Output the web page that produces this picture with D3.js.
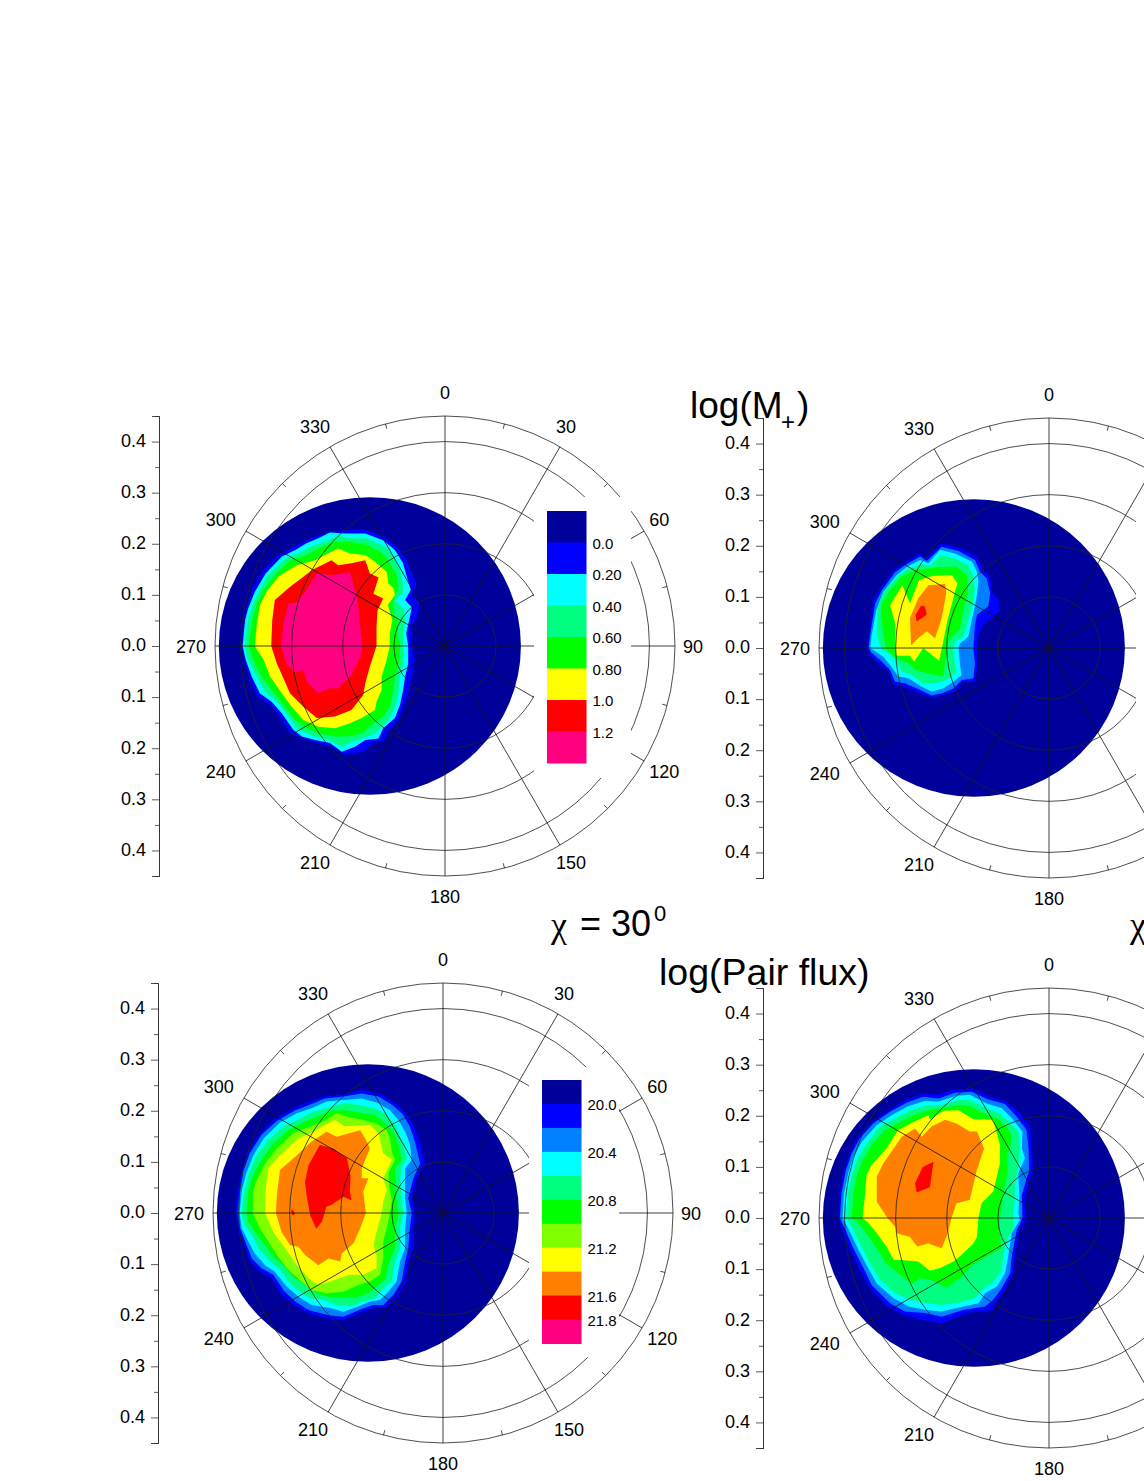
<!DOCTYPE html>
<html>
<head>
<meta charset="utf-8">
<style>
  body { margin: 0; background: #fff; }
  svg { display: block; }
  text { font-family: "Liberation Sans", Arial, sans-serif; fill: #000; }
</style>
<script src="https://cdnjs.cloudflare.com/ajax/libs/d3/7.8.5/d3.min.js"></script>
</head>
<body>
<div id="chart"></div>
<script>
// radial axis and angle labels
const radialTicks = [-0.4, -0.3, -0.2, -0.1, 0, 0.1, 0.2, 0.3, 0.4];
const radialMinorTicks = [-0.45, -0.35, -0.25, -0.15, -0.05, 0.05, 0.15, 0.25, 0.35, 0.45];
const ringValues = [0.1, 0.2, 0.3, 0.4, 0.45];
const spokeAngles = [0, 30, 60, 90, 120, 150, 180, 210, 240, 270, 300, 330];
const minorAngles = [15, 45, 75, 105, 135, 165, 195, 225, 255, 285, 315, 345];
const maxRadius = 0.45;

// colour levels
const navy = "#00009b", blue = "#0000ff", azure = "#0080ff", cyan = "#00ffff", spring = "#00ff80";
const green = "#00ff00", lime = "#80ff00", yellow = "#ffff00", orange = "#ff8000", red = "#ff0000", pink = "#ff0080";
const mPlusColours = [navy, blue, cyan, spring, green, yellow, red, pink];
const mPlusLabels = ["0.0", "0.20", "0.40", "0.60", "0.80", "1.0", "1.2"];
const fluxColours = [navy, blue, azure, cyan, spring, green, lime, yellow, orange, red, pink];
const fluxLabels = ["20.0", "", "20.4", "", "20.8", "", "21.2", "", "21.6", "21.8"];

// the lit disc, offset from the pole
const discCentre = -0.147;
const discRadiusX = 0.2955;
const discRadiusY = 0.291;

// contour outlines, [x, y] from the pole in thousandths of the radial unit
const mPlus30Colours = [blue, cyan, spring, green, yellow, red, pink];
const mPlus30 = [
  [[-399,0],[-394,51],[-390,70],[-377,113],[-355,149],[-326,178],[-303,191],[-277,204],[-254,214],[-225,224],[-196,227],[-160,228],[-124,217],[-98,198],[-78,175],[-68,149],[-55,119],[-65,100],[-49,87],[-55,57],[-65,41],[-65,0],[-59,-27],[-65,-60],[-72,-93],[-82,-119],[-91,-145],[-108,-164],[-121,-187],[-140,-189],[-160,-207],[-196,-213],[-222,-197],[-251,-190],[-277,-181],[-303,-171],[-326,-135],[-342,-115],[-368,-99],[-381,-67],[-391,-34]],
  [[-396,0],[-391,51],[-385,74],[-372,106],[-351,142],[-319,175],[-293,188],[-271,201],[-248,211],[-225,222],[-196,220],[-156,220],[-121,207],[-98,188],[-82,162],[-75,136],[-67,110],[-78,90],[-65,76],[-70,51],[-76,25],[-72,0],[-72,-34],[-78,-60],[-82,-86],[-88,-115],[-98,-141],[-121,-161],[-130,-181],[-156,-184],[-176,-197],[-202,-207],[-225,-190],[-254,-184],[-280,-177],[-297,-164],[-319,-132],[-339,-109],[-362,-93],[-378,-60],[-390,-27]],
  [[-392,0],[-386,51],[-378,77],[-365,106],[-346,139],[-313,170],[-284,183],[-264,194],[-228,207],[-209,215],[-183,211],[-153,211],[-117,194],[-101,175],[-88,149],[-82,123],[-82,103],[-98,90],[-82,74],[-78,51],[-82,25],[-82,0],[-82,-34],[-88,-60],[-91,-93],[-98,-119],[-110,-145],[-121,-155],[-137,-171],[-163,-181],[-186,-190],[-202,-197],[-228,-184],[-254,-177],[-287,-164],[-306,-138],[-329,-109],[-352,-89],[-372,-53],[-386,-27]],
  [[-385,0],[-377,51],[-368,83],[-355,110],[-333,139],[-303,168],[-271,178],[-248,191],[-218,204],[-183,204],[-153,198],[-121,181],[-108,162],[-96,142],[-91,116],[-101,90],[-101,64],[-91,51],[-93,25],[-88,0],[-91,-34],[-98,-60],[-101,-86],[-108,-119],[-121,-138],[-140,-151],[-163,-171],[-189,-177],[-215,-177],[-248,-171],[-271,-161],[-293,-145],[-316,-115],[-339,-86],[-359,-60],[-375,-27]],
  [[-372,0],[-368,44],[-362,80],[-349,106],[-326,136],[-290,158],[-254,168],[-235,178],[-209,191],[-186,181],[-156,178],[-137,165],[-114,145],[-111,123],[-101,113],[-98,100],[-112,80],[-103,51],[-108,25],[-108,0],[-114,-27],[-124,-60],[-124,-86],[-134,-109],[-137,-125],[-163,-141],[-186,-151],[-215,-161],[-248,-158],[-277,-145],[-300,-119],[-319,-93],[-342,-60],[-355,-27]],
  [[-340,0],[-338,51],[-333,90],[-303,116],[-259,149],[-222,168],[-209,158],[-183,162],[-156,168],[-147,142],[-130,134],[-140,102],[-121,93],[-132,70],[-134,38],[-134,0],[-147,-40],[-156,-73],[-160,-96],[-183,-125],[-215,-138],[-251,-141],[-277,-119],[-303,-93],[-329,-34]],
  [[-321,0],[-316,44],[-306,83],[-290,85],[-271,110],[-251,142],[-222,139],[-186,145],[-173,100],[-170,77],[-166,38],[-161,0],[-166,-21],[-183,-57],[-209,-83],[-228,-83],[-248,-93],[-271,-70],[-277,-47],[-293,-53],[-310,-34]]
];

const mPlus60Colours = [blue, azure, cyan, spring, green, yellow, orange, red];
const mPlus60 = [
  [[-357,0],[-353,25],[-344,91],[-331,117],[-304,151],[-285,166],[-252,185],[-243,175],[-210,205],[-174,195],[-141,179],[-128,153],[-115,140],[-112,110],[-99,94],[-96,74],[-112,58],[-128,48],[-138,25],[-141,0],[-141,-40],[-145,-66],[-168,-66],[-184,-85],[-207,-92],[-226,-98],[-252,-89],[-285,-76],[-304,-72],[-314,-46],[-334,-30],[-350,-14]],
  [[-353,0],[-350,25],[-340,87],[-327,113],[-301,148],[-282,162],[-252,179],[-239,170],[-210,198],[-177,190],[-145,172],[-135,149],[-122,136],[-115,107],[-119,81],[-141,65],[-145,45],[-148,0],[-145,-30],[-148,-59],[-171,-63],[-187,-79],[-210,-89],[-230,-93],[-252,-82],[-282,-69],[-301,-66],[-311,-43],[-331,-23],[-347,-10]],
  [[-350,0],[-347,25],[-338,74],[-324,110],[-298,143],[-278,159],[-252,172],[-236,166],[-213,192],[-184,185],[-151,169],[-141,149],[-138,130],[-141,104],[-145,81],[-151,55],[-158,22],[-174,9],[-177,0],[-174,-33],[-171,-53],[-187,-66],[-207,-79],[-230,-85],[-249,-76],[-275,-59],[-295,-56],[-308,-37],[-324,-17],[-344,-4]],
  [[-327,-4],[-337,25],[-336,65],[-331,94],[-318,117],[-295,141],[-275,156],[-249,164],[-230,162],[-213,182],[-184,175],[-158,162],[-148,140],[-145,117],[-151,78],[-161,45],[-168,22],[-184,12],[-188,-4],[-184,-33],[-181,-46],[-194,-59],[-220,-69],[-246,-69],[-269,-53],[-288,-46],[-301,-23],[-314,-10]],
  [[-318,-4],[-324,25],[-329,65],[-327,87],[-311,113],[-288,140],[-259,153],[-233,156],[-207,159],[-181,159],[-161,143],[-158,110],[-168,74],[-174,38],[-199,12],[-199,-4],[-207,-56],[-223,-53],[-243,-48],[-262,-43],[-275,-30],[-295,-23]],
  [[-301,-4],[-301,48],[-311,83],[-287,123],[-272,87],[-262,113],[-254,133],[-230,141],[-190,143],[-179,126],[-184,110],[-199,52],[-207,12],[-215,-25],[-246,0],[-264,-27],[-272,-15],[-298,-15]],
  [[-270,7],[-272,58],[-256,97],[-236,123],[-203,125],[-201,107],[-210,58],[-223,19],[-239,33],[-256,19],[-269,6]],
  [[-261,65],[-250,83],[-243,81],[-239,65],[-259,52]]
];

const flux30Colours = [blue, azure, cyan, spring, green, lime, yellow, orange, red, red];
const flux30 = [
  [[-407,0],[-402,42],[-394,81],[-381,120],[-358,156],[-329,185],[-293,205],[-267,216],[-234,228],[-195,232],[-159,241],[-123,234],[-94,215],[-71,195],[-58,172],[-45,140],[-35,97],[-52,68],[-61,29],[-55,0],[-57,-30],[-58,-69],[-68,-95],[-71,-134],[-91,-167],[-110,-186],[-133,-186],[-156,-193],[-195,-209],[-228,-206],[-263,-196],[-293,-180],[-319,-157],[-335,-128],[-358,-115],[-378,-95],[-387,-69],[-400,-30]],
  [[-402,0],[-398,42],[-391,81],[-378,117],[-355,153],[-325,180],[-289,201],[-263,211],[-231,224],[-195,228],[-159,234],[-126,228],[-97,210],[-78,192],[-65,169],[-55,140],[-45,97],[-58,68],[-68,29],[-61,0],[-65,-30],[-68,-69],[-74,-95],[-81,-134],[-97,-160],[-117,-180],[-136,-180],[-159,-188],[-195,-203],[-224,-200],[-263,-190],[-289,-173],[-312,-151],[-332,-121],[-355,-108],[-374,-89],[-384,-63],[-397,-30]],
  [[-398,0],[-394,42],[-385,78],[-371,113],[-351,146],[-319,177],[-286,195],[-257,205],[-228,218],[-195,221],[-159,224],[-130,216],[-104,201],[-87,182],[-74,159],[-65,136],[-61,104],[-74,87],[-74,65],[-74,29],[-71,0],[-74,-30],[-74,-69],[-84,-95],[-91,-134],[-107,-154],[-123,-170],[-143,-173],[-166,-183],[-195,-193],[-221,-186],[-257,-180],[-283,-164],[-306,-144],[-329,-115],[-348,-102],[-368,-79],[-381,-56],[-394,-30]],
  [[-394,0],[-389,42],[-381,74],[-368,107],[-345,140],[-312,169],[-280,185],[-254,198],[-221,208],[-192,215],[-162,211],[-133,205],[-110,192],[-94,172],[-81,143],[-71,107],[-81,91],[-84,61],[-81,29],[-78,0],[-84,-30],[-84,-69],[-94,-95],[-100,-134],[-117,-147],[-133,-167],[-156,-173],[-182,-183],[-208,-180],[-234,-170],[-260,-167],[-280,-154],[-299,-138],[-319,-111],[-342,-92],[-361,-69],[-374,-43],[-389,-23]],
  [[-384,0],[-381,42],[-374,68],[-358,100],[-335,133],[-303,162],[-270,179],[-247,188],[-215,201],[-188,201],[-159,195],[-133,192],[-113,175],[-97,159],[-87,133],[-81,104],[-94,87],[-92,61],[-91,29],[-87,0],[-94,-30],[-94,-69],[-104,-92],[-113,-128],[-126,-141],[-146,-157],[-166,-164],[-195,-167],[-224,-164],[-250,-157],[-270,-141],[-293,-125],[-312,-102],[-335,-82],[-351,-59],[-368,-37],[-381,-17]],
  [[-372,0],[-372,42],[-364,65],[-348,97],[-325,126],[-293,156],[-260,169],[-234,179],[-208,195],[-185,188],[-156,182],[-130,175],[-110,162],[-104,146],[-100,120],[-94,104],[-107,78],[-105,48],[-100,25],[-104,0],[-110,-30],[-117,-56],[-117,-89],[-123,-121],[-143,-134],[-166,-141],[-195,-154],[-228,-157],[-257,-151],[-280,-131],[-303,-111],[-325,-82],[-342,-56],[-358,-30]],
  [[-348,0],[-348,35],[-342,87],[-319,113],[-283,146],[-254,159],[-231,172],[-211,182],[-192,169],[-159,172],[-143,172],[-126,156],[-117,117],[-100,104],[-117,68],[-110,45],[-117,22],[-120,0],[-130,-37],[-136,-63],[-130,-82],[-130,-108],[-156,-121],[-182,-121],[-221,-134],[-244,-141],[-263,-128],[-289,-98],[-309,-69],[-332,-37]],
  [[-327,0],[-325,35],[-319,84],[-289,110],[-257,140],[-228,159],[-208,149],[-162,162],[-149,140],[-143,126],[-159,87],[-159,68],[-146,68],[-156,42],[-151,0],[-162,-30],[-175,-59],[-198,-79],[-201,-95],[-224,-89],[-244,-102],[-270,-82],[-283,-66],[-299,-63],[-316,-37]],
  [[-270,61],[-263,94],[-241,133],[-214,126],[-188,107],[-181,74],[-182,42],[-179,25],[-195,32],[-218,16],[-228,12],[-237,-17],[-248,-31],[-260,-4],[-267,35]],
  [[-296,8],[-289,-1],[-294,-5],[-297,0]]
];

const flux60Colours = [blue, azure, cyan, spring, green, yellow, orange, red];
const flux60 = [
  [[-412,0],[-410,48],[-402,91],[-389,130],[-373,159],[-347,188],[-314,211],[-282,231],[-246,244],[-220,241],[-187,252],[-148,254],[-115,237],[-83,228],[-57,205],[-37,179],[-34,140],[-31,94],[-47,42],[-44,0],[-57,-23],[-67,-76],[-70,-108],[-86,-141],[-102,-164],[-109,-180],[-161,-186],[-210,-206],[-246,-200],[-285,-190],[-318,-173],[-353,-134],[-370,-102],[-389,-63],[-402,-30]],
  [[-409,0],[-406,48],[-398,91],[-386,126],[-370,156],[-344,185],[-311,208],[-278,226],[-246,237],[-216,234],[-184,245],[-151,247],[-119,232],[-86,223],[-63,198],[-44,172],[-40,136],[-39,94],[-53,45],[-52,0],[-63,-23],[-73,-76],[-76,-108],[-93,-138],[-109,-160],[-125,-173],[-168,-180],[-210,-193],[-243,-186],[-282,-183],[-311,-167],[-347,-131],[-363,-98],[-383,-59],[-397,-27]],
  [[-404,0],[-401,48],[-393,87],[-383,120],[-366,149],[-337,182],[-308,201],[-275,219],[-243,229],[-216,228],[-181,239],[-155,241],[-122,224],[-93,215],[-70,192],[-52,169],[-53,136],[-47,117],[-60,87],[-58,42],[-60,9],[-57,-4],[-73,-30],[-80,-76],[-86,-108],[-102,-134],[-125,-147],[-138,-167],[-168,-173],[-210,-183],[-239,-180],[-275,-173],[-304,-157],[-337,-128],[-357,-92],[-376,-56],[-393,-20]],
  [[-397,0],[-394,45],[-386,84],[-376,113],[-357,146],[-331,179],[-301,195],[-272,211],[-239,221],[-210,221],[-177,231],[-155,231],[-125,215],[-96,205],[-76,185],[-60,169],[-57,140],[-60,100],[-67,68],[-67,35],[-71,0],[-68,-17],[-80,-37],[-89,-69],[-93,-102],[-109,-125],[-128,-138],[-145,-157],[-168,-164],[-210,-170],[-239,-167],[-272,-160],[-301,-147],[-331,-121],[-350,-89],[-370,-50],[-386,-17]],
  [[-386,0],[-383,48],[-376,84],[-366,110],[-347,143],[-321,172],[-291,188],[-265,201],[-236,211],[-207,215],[-177,221],[-158,221],[-128,205],[-102,195],[-83,179],[-73,162],[-76,140],[-83,117],[-80,94],[-86,68],[-89,45],[-96,0],[-96,-30],[-93,-59],[-128,-79],[-151,-92],[-171,-115],[-200,-136],[-233,-121],[-252,-118],[-269,-129],[-295,-108],[-318,-89],[-340,-56],[-357,-30],[-373,-10]],
  [[-365,0],[-360,45],[-357,84],[-347,104],[-318,136],[-295,172],[-265,188],[-236,201],[-233,192],[-207,210],[-177,211],[-148,193],[-109,192],[-96,143],[-96,107],[-109,52],[-132,29],[-138,0],[-141,-37],[-148,-50],[-171,-72],[-187,-85],[-213,-98],[-233,-103],[-256,-85],[-288,-82],[-304,-82],[-318,-56],[-337,-30],[-353,-10]],
  [[-316,0],[-337,32],[-337,81],[-324,107],[-288,159],[-262,175],[-249,159],[-230,179],[-203,192],[-181,185],[-155,169],[-141,169],[-127,136],[-141,94],[-155,35],[-181,29],[-190,3],[-199,-33],[-210,-59],[-236,-50],[-258,-56],[-272,-37],[-298,-30],[-301,-17]],
  [[-262,68],[-247,100],[-226,110],[-233,60],[-259,50]]
];

const width = 1144;
const height = 1481;

const svg = d3.select("#chart")
  .append("svg")
  .attr("width", width)
  .attr("height", height);

svg.append("rect")
  .attr("width", width)
  .attr("height", height)
  .attr("fill", "white");

function drawPanel(p) {
  const x = d3.scaleLinear().domain([-maxRadius, maxRadius]).range([p.cx - 230, p.cx + 230]);
  const y = d3.scaleLinear().domain([-maxRadius, maxRadius]).range([p.cy + 230, p.cy - 230]);
  const g = svg.append("g");

  // lit disc and its contours go under the grid
  g.append("ellipse")
    .attr("cx", x(discCentre))
    .attr("cy", y(0))
    .attr("rx", x(discRadiusX) - x(0))
    .attr("ry", y(0) - y(discRadiusY))
    .attr("fill", navy);

  const outline = d3.line()
    .x(d => x(d[0] / 1000))
    .y(d => y(d[1] / 1000))
    .curve(d3.curveLinearClosed);

  g.selectAll("path.level")
    .data(p.levels)
    .join("path")
    .attr("class", "level")
    .attr("d", outline)
    .attr("fill", (d, i) => p.colours[i]);

  g.selectAll("circle.ring")
    .data(ringValues)
    .join("circle")
    .attr("class", "ring")
    .attr("cx", x(0))
    .attr("cy", y(0))
    .attr("r", d => x(d) - x(0))
    .attr("fill", "none")
    .attr("stroke", "#222")
    .attr("stroke-width", 0.8);

  const rad = d => d * Math.PI / 180;

  g.selectAll("line.spoke")
    .data(spokeAngles)
    .join("line")
    .attr("class", "spoke")
    .attr("x1", x(0))
    .attr("y1", y(0))
    .attr("x2", d => x(maxRadius * Math.sin(rad(d))))
    .attr("y2", d => y(maxRadius * Math.cos(rad(d))))
    .attr("stroke", "#111")
    .attr("stroke-width", 0.8);

  g.selectAll("line.minor")
    .data(minorAngles)
    .join("line")
    .attr("class", "minor")
    .attr("x1", d => x(maxRadius * Math.sin(rad(d))))
    .attr("y1", d => y(maxRadius * Math.cos(rad(d))))
    .attr("x2", d => x(0.44 * Math.sin(rad(d))))
    .attr("y2", d => y(0.44 * Math.cos(rad(d))))
    .attr("stroke", "#222")
    .attr("stroke-width", 0.8);

  // the legend sits on a white patch that hides the grid
  if (p.patch) {
    g.append("rect")
      .attr("x", p.patch[0])
      .attr("y", p.patch[1])
      .attr("width", p.patch[2] - p.patch[0])
      .attr("height", p.patch[3] - p.patch[1])
      .attr("fill", "white");
  }

  // labels hang off the spoke ends, left side right-aligned, right side left-aligned
  const nudge = { 0: 0, 30: -4, 60: 5, 90: 8, 120: 5, 150: -4, 180: 0, 210: 0, 240: 10, 270: 9, 300: 10, 330: 0 };
  const labelX = d => {
    const ex = x(maxRadius * Math.sin(rad(d)));
    return d > 0 && d < 180 ? ex + nudge[d] : ex - nudge[d];
  };
  const labelY = d => y((d > 90 && d < 270 ? 0.489 : 0.496) * Math.cos(rad(d))) + 7;

  g.selectAll("text.angle")
    .data(spokeAngles.filter(d => labelX(d) < width))
    .join("text")
    .attr("class", "angle")
    .attr("x", labelX)
    .attr("y", labelY)
    .attr("text-anchor", d => d === 0 || d === 180 ? "middle" : (d < 180 ? "start" : "end"))
    .attr("font-size", 18)
    .text(d => d);

  // radial scale on the left, mirrored about 0.0
  const major = d3.axisLeft(y)
    .tickValues(radialTicks)
    .tickSize(7)
    .tickPadding(6)
    .tickFormat(d => Math.abs(d).toFixed(1));
  const minor = d3.axisLeft(y)
    .tickValues(radialMinorTicks)
    .tickSize(4)
    .tickFormat("");

  [major, minor].forEach(axis => {
    const a = g.append("g")
      .attr("transform", "translate(" + p.axisX + ",0)")
      .call(axis);
    a.select(".domain").attr("stroke", "#333").attr("stroke-width", 0.9);
    a.selectAll(".tick line").attr("stroke", "#333").attr("stroke-width", 0.8);
    a.selectAll("text")
      .attr("font-size", 18)
      .attr("font-family", "Liberation Sans")
      .attr("dy", "0.27em");
  });

  if (p.legend) drawLegend(p.legend);
}

function drawLegend(l) {
  const band = d3.scaleLinear().domain([0, l.colours.length]).range([l.top, l.bottom]);

  svg.selectAll(null)
    .data(l.colours)
    .join("rect")
    .attr("x", l.x)
    .attr("y", (d, i) => band(i))
    .attr("width", 39.5)
    .attr("height", band(1) - band(0) + 0.5)
    .attr("fill", d => d);

  svg.selectAll(null)
    .data(l.labels)
    .join("text")
    .attr("x", l.x + 45.5)
    .attr("y", (d, i) => band(i + 1) + 6)
    .attr("font-size", 15)
    .text(d => d);
}

const panels = [
  { cx: 445, cy: 646, axisX: 159, levels: mPlus30, colours: mPlus30Colours, patch: [534, 497, 631, 778],
    legend: { x: 547, top: 511, bottom: 763, colours: mPlusColours, labels: mPlusLabels } },
  { cx: 1049, cy: 648, axisX: 763, levels: mPlus60, colours: mPlus60Colours, patch: [1136, 499, 1144, 781] },
  { cx: 443, cy: 1213, axisX: 158, levels: flux30, colours: flux30Colours, patch: [529, 1067, 619, 1357],
    legend: { x: 542, top: 1080, bottom: 1343.5, colours: fluxColours, labels: fluxLabels } },
  { cx: 1049, cy: 1218, axisX: 763, levels: flux60, colours: flux60Colours }
];

panels.forEach(drawPanel);

// titles
function bigText(tx, ty, s, size, family) {
  return svg.append("text")
    .attr("x", tx)
    .attr("y", ty)
    .attr("font-size", size)
    .style("font-family", family || "Liberation Sans")
    .text(s);
}

bigText(690, 418, "log(M", 37);
bigText(781, 430, "+", 24);
bigText(797, 418, ")", 37);
bigText(659, 985, "log(Pair flux)", 37.5);
bigText(551, 937, "χ", 36, "Liberation Serif");
bigText(580, 936, "= 30", 36);
bigText(654, 921, "0", 22);
bigText(1130, 937, "χ", 36, "Liberation Serif");
</script>
</body>
</html>
